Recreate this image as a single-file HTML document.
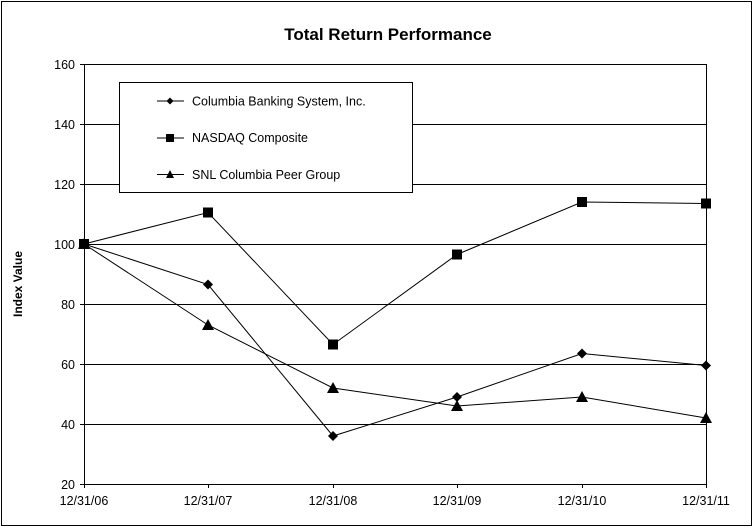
<!DOCTYPE html>
<html><head><style>body{margin:0;background:#fff}svg{display:block}</style></head><body>
<svg width="754" height="528" xmlns="http://www.w3.org/2000/svg" font-family="Liberation Sans, Arial, sans-serif">
<rect x="1.5" y="1.5" width="750" height="524" fill="#fff" stroke="#000" stroke-width="1"/>
<text x="388" y="40" text-anchor="middle" font-size="17" font-weight="bold">Total Return Performance</text>
<g stroke="#000" stroke-width="1">
<line x1="84" y1="64.5" x2="706" y2="64.5"/>
<line x1="84" y1="124.5" x2="706" y2="124.5"/>
<line x1="84" y1="184.5" x2="706" y2="184.5"/>
<line x1="84" y1="244.5" x2="706" y2="244.5"/>
<line x1="84" y1="304.5" x2="706" y2="304.5"/>
<line x1="84" y1="364.5" x2="706" y2="364.5"/>
<line x1="84" y1="424.5" x2="706" y2="424.5"/>
<line x1="84" y1="484.5" x2="706" y2="484.5"/>
<line x1="84.5" y1="64" x2="84.5" y2="488"/>
<line x1="706.5" y1="64" x2="706.5" y2="488"/>
<line x1="80" y1="64.5" x2="84" y2="64.5"/><line x1="80" y1="124.5" x2="84" y2="124.5"/><line x1="80" y1="184.5" x2="84" y2="184.5"/><line x1="80" y1="244.5" x2="84" y2="244.5"/><line x1="80" y1="304.5" x2="84" y2="304.5"/><line x1="80" y1="364.5" x2="84" y2="364.5"/><line x1="80" y1="424.5" x2="84" y2="424.5"/><line x1="80" y1="484.5" x2="84" y2="484.5"/>
<line x1="208.5" y1="484" x2="208.5" y2="488"/><line x1="333.5" y1="484" x2="333.5" y2="488"/><line x1="457.5" y1="484" x2="457.5" y2="488"/><line x1="582.5" y1="484" x2="582.5" y2="488"/>
</g>
<g font-size="12.5" text-anchor="end">
<text x="75" y="69">160</text><text x="75" y="129">140</text><text x="75" y="189">120</text><text x="75" y="249">100</text><text x="75" y="309">80</text><text x="75" y="369">60</text><text x="75" y="429">40</text><text x="75" y="489">20</text>
</g>
<g font-size="12.5" text-anchor="middle">
<text x="84" y="505">12/31/06</text><text x="208" y="505">12/31/07</text><text x="333" y="505">12/31/08</text><text x="457" y="505">12/31/09</text><text x="582" y="505">12/31/10</text><text x="706" y="505">12/31/11</text>
</g>
<text transform="translate(22,284) rotate(-90)" text-anchor="middle" font-size="12" font-weight="bold">Index Value</text>
<rect x="119.5" y="82.5" width="293" height="110" fill="#fff" stroke="#000"/>
<g stroke="#000" stroke-width="1" fill="none">
<polyline points="84,244 208,212.5 333,344.5 457,254.5 582,202 706,203.5"/>
<polyline points="84,244 208,325 333,388 457,406 582,397 706,418"/>
<polyline points="84,244 208,284.5 333,436 457,397 582,353.5 706,365.5"/>
<line x1="157" y1="101" x2="184" y2="101"/><line x1="157" y1="138" x2="184" y2="138"/><line x1="157" y1="174.5" x2="184" y2="174.5"/>
</g>
<g fill="#000">
<rect x="79" y="239" width="10" height="10"/><rect x="203" y="207.5" width="10" height="10"/><rect x="328" y="339.5" width="10" height="10"/><rect x="452" y="249.5" width="10" height="10"/><rect x="577" y="197" width="10" height="10"/><rect x="701" y="198.5" width="10" height="10"/>
<polygon points="208,319 214,330 202,330"/><polygon points="333,382 339,393 327,393"/><polygon points="457,400 463,411 451,411"/><polygon points="582,391 588,402 576,402"/><polygon points="706,412 712,423 700,423"/><polygon points="84,238 90,249 78,249"/>
<polygon points="208,279.5 213,284.5 208,289.5 203,284.5"/><polygon points="333,431 338,436 333,441 328,436"/><polygon points="457,392 462,397 457,402 452,397"/><polygon points="582,348.5 587,353.5 582,358.5 577,353.5"/><polygon points="706,360.5 711,365.5 706,370.5 701,365.5"/>
<polygon points="170,97.5 173.5,101 170,104.5 166.5,101"/><rect x="166" y="134" width="8" height="8"/><polygon points="170,170 174,178 166,178"/>
</g>
<g font-size="12.5">
<text x="192" y="105.5">Columbia Banking System, Inc.</text>
<text x="192" y="142">NASDAQ Composite</text>
<text x="192" y="179">SNL Columbia Peer Group</text>
</g>
</svg>
</body></html>
